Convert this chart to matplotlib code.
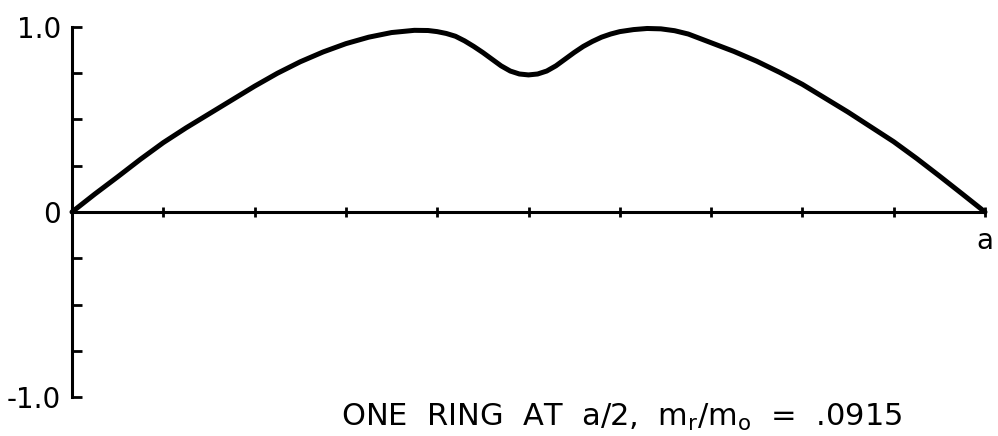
import matplotlib

matplotlib.use("Agg")
import matplotlib.pyplot as plt

# mode shape, x in units of a
x_pos = [0.0, 0.025, 0.05, 0.075, 0.1, 0.125, 0.15, 0.175, 0.2, 0.225, 0.25,
         0.275, 0.3, 0.325, 0.35, 0.375, 0.39, 0.4, 0.41, 0.42, 0.43, 0.44, 0.45,
         0.46, 0.47, 0.48, 0.49, 0.5, 0.51, 0.52, 0.53, 0.54, 0.55, 0.56, 0.57,
         0.58, 0.59, 0.6, 0.615, 0.63, 0.645, 0.66, 0.675, 0.7, 0.725, 0.75,
         0.775, 0.8, 0.825, 0.85, 0.875, 0.9, 0.925, 0.95, 0.975, 1.0]
amplitude = [0.0, 0.097, 0.19, 0.285, 0.375, 0.455, 0.53, 0.605, 0.68, 0.75, 0.812,
             0.865, 0.91, 0.945, 0.97, 0.982, 0.981, 0.975, 0.965, 0.95, 0.925, 0.895, 0.862,
             0.826, 0.79, 0.762, 0.746, 0.741, 0.746, 0.762, 0.79, 0.826, 0.862, 0.895, 0.922,
             0.945, 0.962, 0.975, 0.986, 0.992, 0.99, 0.98, 0.962, 0.915, 0.868, 0.815,
             0.755, 0.69, 0.615, 0.54, 0.46, 0.38, 0.29, 0.195, 0.098, 0.0]

x_ticks = [0.1, 0.2, 0.3, 0.4, 0.5, 0.6, 0.7, 0.8, 0.9, 1.0]
x_ticklabels = ["", "", "", "", "", "", "", "", "", "a"]
y_ticks = [-1.0, -0.75, -0.5, -0.25, 0.0, 0.25, 0.5, 0.75, 1.0]
y_ticklabels = ["-1.0", "", "", "", "0", "", "", "", "1.0"]
caption = r"ONE  RING  AT  a/2,  $\mathregular{m_r/m_o}$  =  .0915"

fig = plt.figure(figsize=(9.98, 4.36), dpi=100)
ax = fig.add_axes([72 / 998, 39 / 436, 913 / 998, 370 / 436])

ax.plot(x_pos, amplitude, color="black", lw=3.6, solid_capstyle="round",
        solid_joinstyle="round", clip_on=False)

ax.set_xlim(0, 1)
ax.set_ylim(-1, 1)
ax.spines["top"].set_visible(False)
ax.spines["right"].set_visible(False)
ax.spines["bottom"].set_position(("data", 0))
ax.spines["bottom"].set_linewidth(2.2)
ax.spines["left"].set_linewidth(2.2)

ax.set_xticks(x_ticks)
ax.set_xticklabels(x_ticklabels)
ax.set_yticks(y_ticks)
ax.set_yticklabels(y_ticklabels)
ax.tick_params(axis="x", direction="inout", length=7, width=2, pad=7, labelsize=20)
ax.tick_params(axis="y", direction="in", length=7, width=2, pad=8, labelsize=20)

fig.text(0.623, 0.024, caption, ha="center", va="baseline", fontsize=22)

fig.savefig("out.png", dpi=100)
plt.close(fig)
